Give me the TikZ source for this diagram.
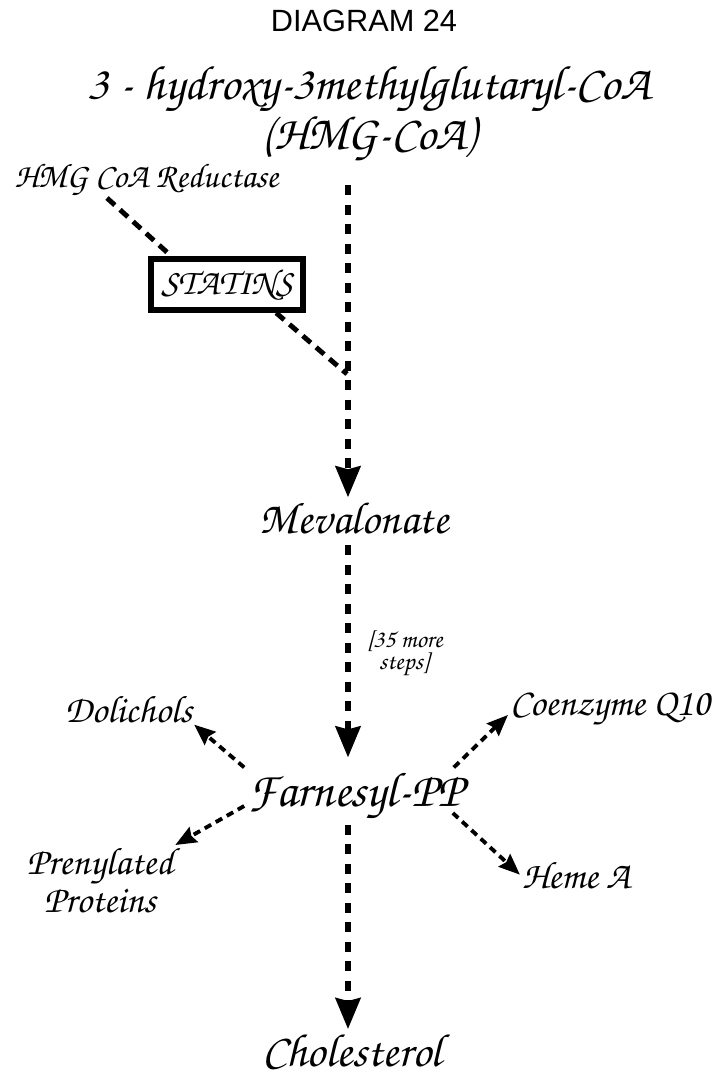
\documentclass[tikz,border=0pt]{standalone}
\usepackage[T1]{fontenc}
\usepackage{fontspec}
\newfontfamily\diagsans{Liberation Sans}
\newcommand\chanc{\fontencoding{T1}\fontfamily{pzc}\fontseries{mb}\fontshape{it}\selectfont}
\usetikzlibrary{arrows.meta, positioning}

\begin{document}
\begin{tikzpicture}[
    x=0.02cm, y=-0.02cm,
    hd/.style={font=\diagsans\fontsize{17.5}{20}\selectfont, anchor=base},
    big/.style={font=\fontsize{#1}{28.3}\chanc, align=center, inner sep=2pt},
    big/.default=27,
    mid/.style={font=\fontsize{21.8}{21.6}\chanc, align=center, inner sep=1pt},
    sml/.style={font=\fontsize{14.3}{13}\chanc, align=center, inner sep=1pt},
    stbox/.style={draw, line width=3.3pt, fill=white, minimum width=3.04cm,
      minimum height=1.02cm, font=\fontsize{20.5}{22}\chanc, inner sep=2pt},
    fl/.style={-{Stealth[length=0.62cm, width=0.5cm, inset=0.06cm]},
      line width=3pt, dash pattern=on 5.7pt off 5.4pt},
    sfl/.style={-{Stealth[length=0.42cm, width=0.34cm, inset=0.05cm]},
      line width=2.2pt, dash pattern=on 4.2pt off 3pt},
    inh/.style={line width=2.8pt, dash pattern=on 6pt off 4pt}
  ]
    \useasboundingbox (0,0) rectangle (711,1078);

    % --- titel ---
    \node[hd]  (diag) at (364,32) {DIAGRAM 24};
    \node[big=27.5] (hmg) at (369,113) {3 - hydroxy-3methylglutaryl-CoA\\(HMG-CoA)};

    % --- remmer ---
    \node[mid, font=\fontsize{19.5}{20}\chanc, anchor=base] (red) at (146.5,187) {HMG CoA Reductase};
    \node[stbox] (stat) at (227,284.5) {STATINS};
    \coordinate (rtail) at (107,198);
    \coordinate (top)   at (348,185);
    \coordinate (join)  at (347,374);
    \draw[inh] (rtail) -- (stat.153);
    \draw[inh] (stat.-30) -- (join);

    % --- hovedvej ---
    \node[big=25.5, anchor=base] (meva) at (354,533) {Mevalonate};
    \node[big=27.8, anchor=base] (farn) at (356,806) {Farnesyl-PP};
    \node[big=26.5, anchor=base] (chol) at (352,1066) {Cholesterol};
    \node[sml] (steps) at (405,654) {[35 more\\steps]};

    \draw[fl] (top) -- (top |- meva.north);
    \draw[fl, shorten <=0.15cm, shorten >=0.2cm] (meva.south -| top) -- (farn.north -| top);
    \draw[fl] (farn.south -| top) -- (chol.north -| top);

    % --- sidegrene ---
    \node[mid, anchor=base] (doli) at (128.5,722) {Dolichols};
    \node[mid, anchor=base] (coq)  at (610,715) {Coenzyme Q10};
    \node[mid] (pren) at (100,880) {Prenylated\\Proteins};
    \node[mid, anchor=base] (heme) at (576,888) {Heme A};

    \draw[sfl] (farn.north west) -- (doli.south east);
    \draw[sfl] ([xshift=-0.28cm]farn.north east) -- (coq.base west);
    \draw[sfl] (farn.base west) -- (pren.north east);
    \draw[sfl] ([xshift=-0.3cm, yshift=-0.14cm]farn.base east) -- (heme.west);
  \end{tikzpicture}
\end{document}
